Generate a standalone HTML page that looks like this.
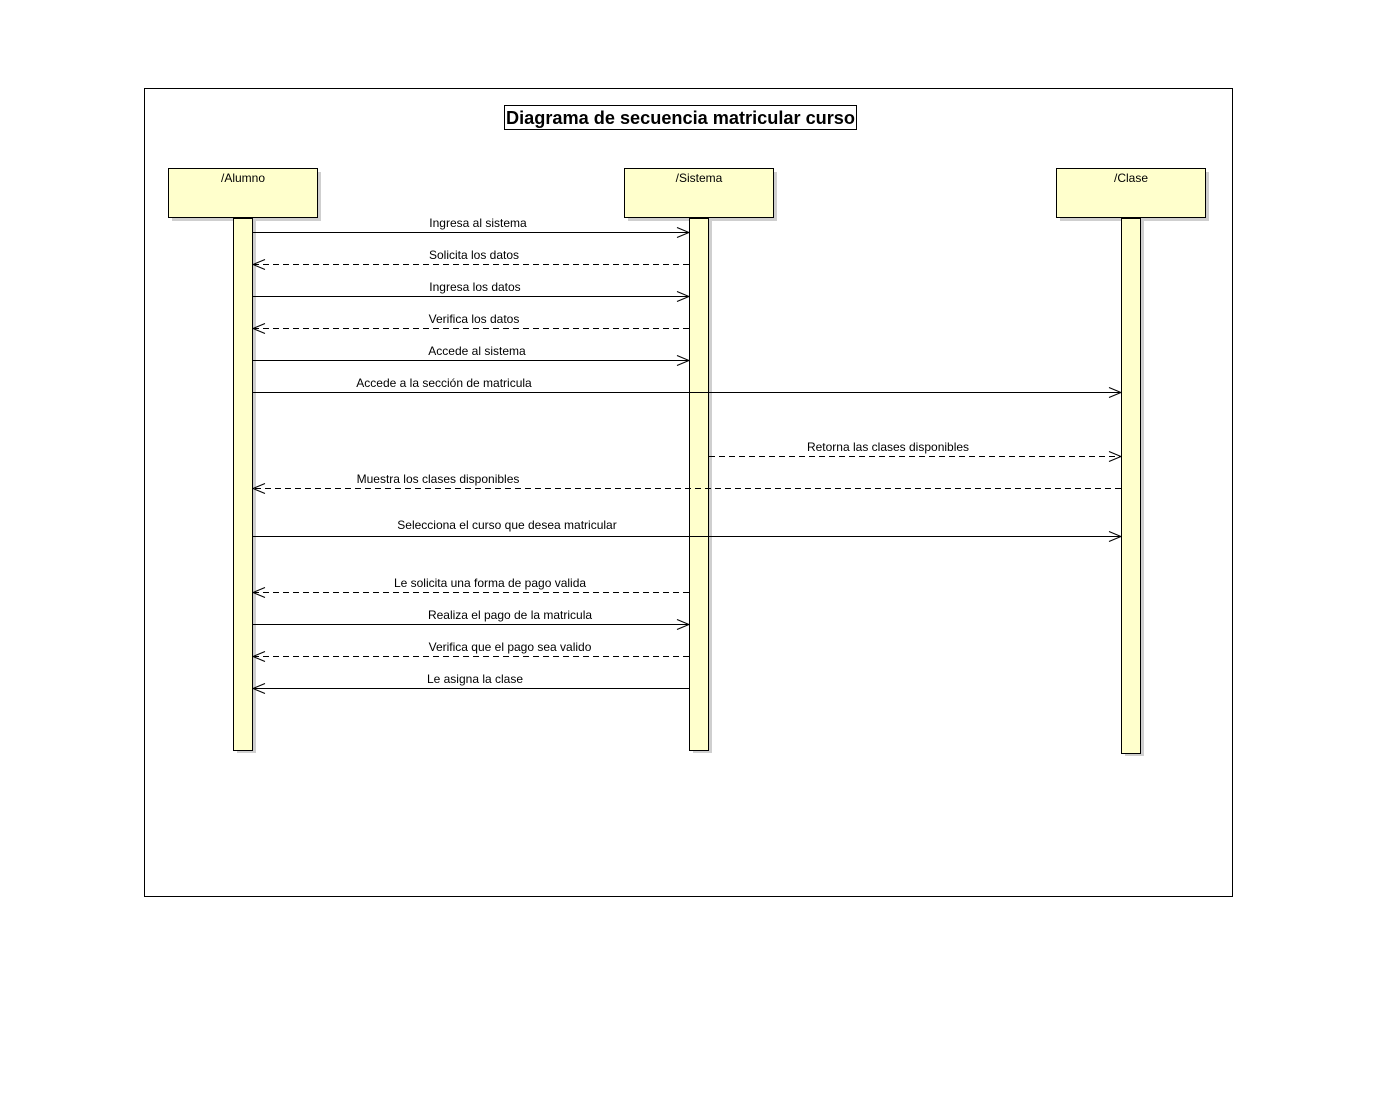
<!DOCTYPE html>
<html><head><style>body{margin:0;background:#fff}svg{display:block}text{font-family:"Liberation Sans",sans-serif;font-size:12px;fill:#000}</style></head>
<body>
<svg width="1376" height="1096" xmlns="http://www.w3.org/2000/svg">
<defs>
<marker id="a" markerWidth="14" markerHeight="12" refX="13" refY="6" orient="auto" markerUnits="userSpaceOnUse"><path d="M1,1 L13,6 L1,11" fill="none" stroke="#000" stroke-width="1"/></marker>
</defs>
<rect x="144.5" y="88.5" width="1088" height="808" fill="none" stroke="#000"/>
<rect x="504.5" y="105.5" width="352" height="24" fill="#fff" stroke="#000"/>
<text x="506" y="124" textLength="349" lengthAdjust="spacingAndGlyphs" style="font-size:18px;font-weight:bold">Diagrama de secuencia matricular curso</text>
<g fill="#cfcfcf">
<rect x="172" y="172" width="149" height="49"/><rect x="628" y="172" width="149" height="49"/><rect x="1060" y="172" width="149" height="49"/>
<rect x="237" y="221" width="19" height="532"/><rect x="693" y="221" width="19" height="532"/><rect x="1125" y="221" width="19" height="535"/>
</g>
<g fill="#ffffcc" stroke="#000">
<rect x="168.5" y="168.5" width="149" height="49"/><rect x="624.5" y="168.5" width="149" height="49"/><rect x="1056.5" y="168.5" width="149" height="49"/>
<rect x="233.5" y="218.5" width="19" height="532"/><rect x="689.5" y="218.5" width="19" height="532"/><rect x="1121.5" y="218.5" width="19" height="535"/>
</g>
<text x="243" y="182" text-anchor="middle">/Alumno</text>
<text x="699" y="182" text-anchor="middle">/Sistema</text>
<text x="1131" y="182" text-anchor="middle">/Clase</text>
<g stroke="#000" stroke-width="1" fill="none" marker-end="url(#a)">
<line x1="253" y1="232.5" x2="689" y2="232.5"/>
<line x1="689" y1="264.5" x2="253" y2="264.5" stroke-dasharray="6,4"/>
<line x1="253" y1="296.5" x2="689" y2="296.5"/>
<line x1="689" y1="328.5" x2="253" y2="328.5" stroke-dasharray="6,4"/>
<line x1="253" y1="360.5" x2="689" y2="360.5"/>
<line x1="253" y1="392.5" x2="1121" y2="392.5"/>
<line x1="709" y1="456.5" x2="1121" y2="456.5" stroke-dasharray="6,4"/>
<line x1="1121" y1="488.5" x2="253" y2="488.5" stroke-dasharray="6,4"/>
<line x1="253" y1="536.5" x2="1121" y2="536.5"/>
<line x1="689" y1="592.5" x2="253" y2="592.5" stroke-dasharray="6,4"/>
<line x1="253" y1="624.5" x2="689" y2="624.5"/>
<line x1="689" y1="656.5" x2="253" y2="656.5" stroke-dasharray="6,4"/>
<line x1="689" y1="688.5" x2="253" y2="688.5"/>
</g>
<text x="478" y="227" text-anchor="middle">Ingresa al sistema</text>
<text x="474" y="259" text-anchor="middle">Solicita los datos</text>
<text x="475" y="291" text-anchor="middle">Ingresa los datos</text>
<text x="474" y="323" text-anchor="middle">Verifica los datos</text>
<text x="477" y="355" text-anchor="middle">Accede al sistema</text>
<text x="444" y="387" text-anchor="middle">Accede a la sección de matricula</text>
<text x="888" y="451" text-anchor="middle">Retorna las clases disponibles</text>
<text x="438" y="483" text-anchor="middle">Muestra los clases disponibles</text>
<text x="507" y="529" text-anchor="middle">Selecciona el curso que desea matricular</text>
<text x="490" y="587" text-anchor="middle">Le solicita una forma de pago valida</text>
<text x="510" y="619" text-anchor="middle">Realiza el pago  de la matricula</text>
<text x="510" y="651" text-anchor="middle">Verifica que el pago sea valido</text>
<text x="475" y="683" text-anchor="middle">Le asigna la clase</text>
</svg>
</body></html>
